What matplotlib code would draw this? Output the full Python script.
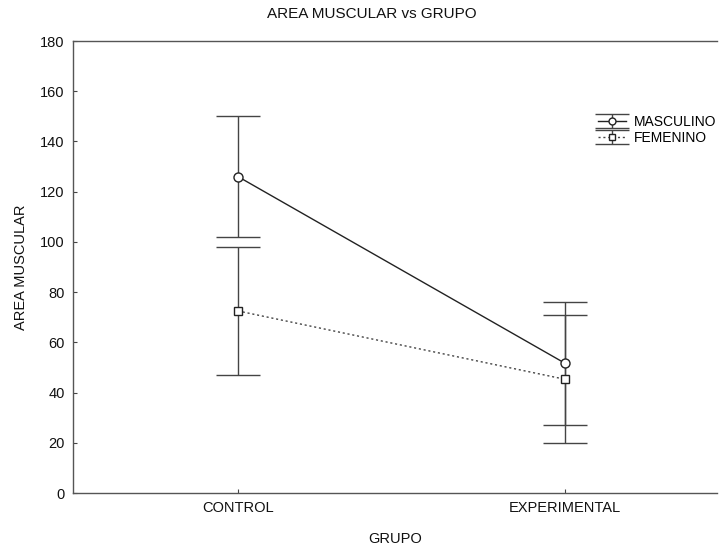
import numpy as np
import matplotlib.pyplot as plt

# datos
grupos = ['CONTROL', 'EXPERIMENTAL']
masc_media = [126.0, 51.7]
masc_err = [24.0, 24.5]
fem_media = [72.5, 45.3]
fem_err = [25.5, 25.5]

plt.rcParams['font.family'] = ['Liberation Sans', 'DejaVu Sans']

fig = plt.figure(figsize=(7.19, 5.47), dpi=100)
ax = fig.add_axes([0.1015, 0.0987, 0.8955, 0.8263])

x = np.arange(len(grupos))

estilo_m = dict(color='#222222', lw=1.0, marker='o', mfc='white', mec='#222222', mew=1.0,
                ecolor='#444444', elinewidth=1.0, capthick=1.0)
estilo_f = dict(color='#444444', lw=1.0, ls=(0, (1.5, 2)), marker='s', mfc='white',
                mec='#222222', mew=1.0, ecolor='#444444', elinewidth=1.0, capthick=1.0)

# masculino: linea continua, circulos
ax.errorbar(x, masc_media, yerr=masc_err, ms=6.5, capsize=16, **estilo_m)
# femenino: linea punteada, cuadrados
f = ax.errorbar(x, fem_media, yerr=fem_err, ms=6, capsize=16, **estilo_f)
f[-1][0].set_linestyle('-')

# iconos pequenos para la leyenda
lm = ax.errorbar([np.nan], [np.nan], yerr=[1], ms=5, capsize=12, label='MASCULINO', **estilo_m)
lf = ax.errorbar([np.nan], [np.nan], yerr=[1], ms=4.5, capsize=12, label='FEMENINO', **estilo_f)
lf[-1][0].set_linestyle('-')

ax.set_xlim(-0.505, 1.465)
ax.set_ylim(0, 180)
ax.set_yticks(np.arange(0, 181, 20))
ax.set_xticks(x)
ax.set_xticklabels(grupos)
ax.tick_params(direction='in', length=3, width=0.8, colors='#444444',
               labelcolor='#111111', labelsize=10.5, pad=6)

for s in ['left', 'bottom', 'top']:
    ax.spines[s].set_color('#555555')
    ax.spines[s].set_linewidth(1.0)
ax.spines['right'].set_visible(False)

ax.set_xlabel('GRUPO', fontsize=10.5, color='#111111', labelpad=12)
ax.set_ylabel('AREA MUSCULAR', fontsize=10.5, color='#111111', labelpad=9)
fig.text(372 / 719, 1 - 14 / 547, 'AREA MUSCULAR vs GRUPO', ha='center', va='center',
         fontsize=11, color='#111111')

ax.legend(handles=[lm, lf], loc='upper left', bbox_to_anchor=(598 / 719, 1 - 115 / 547),
          bbox_transform=fig.transFigure, frameon=False, fontsize=10,
          handlelength=2.0, handletextpad=0.6, labelspacing=0.15, borderpad=0,
          borderaxespad=0)

fig.savefig('out.png', dpi=100)
